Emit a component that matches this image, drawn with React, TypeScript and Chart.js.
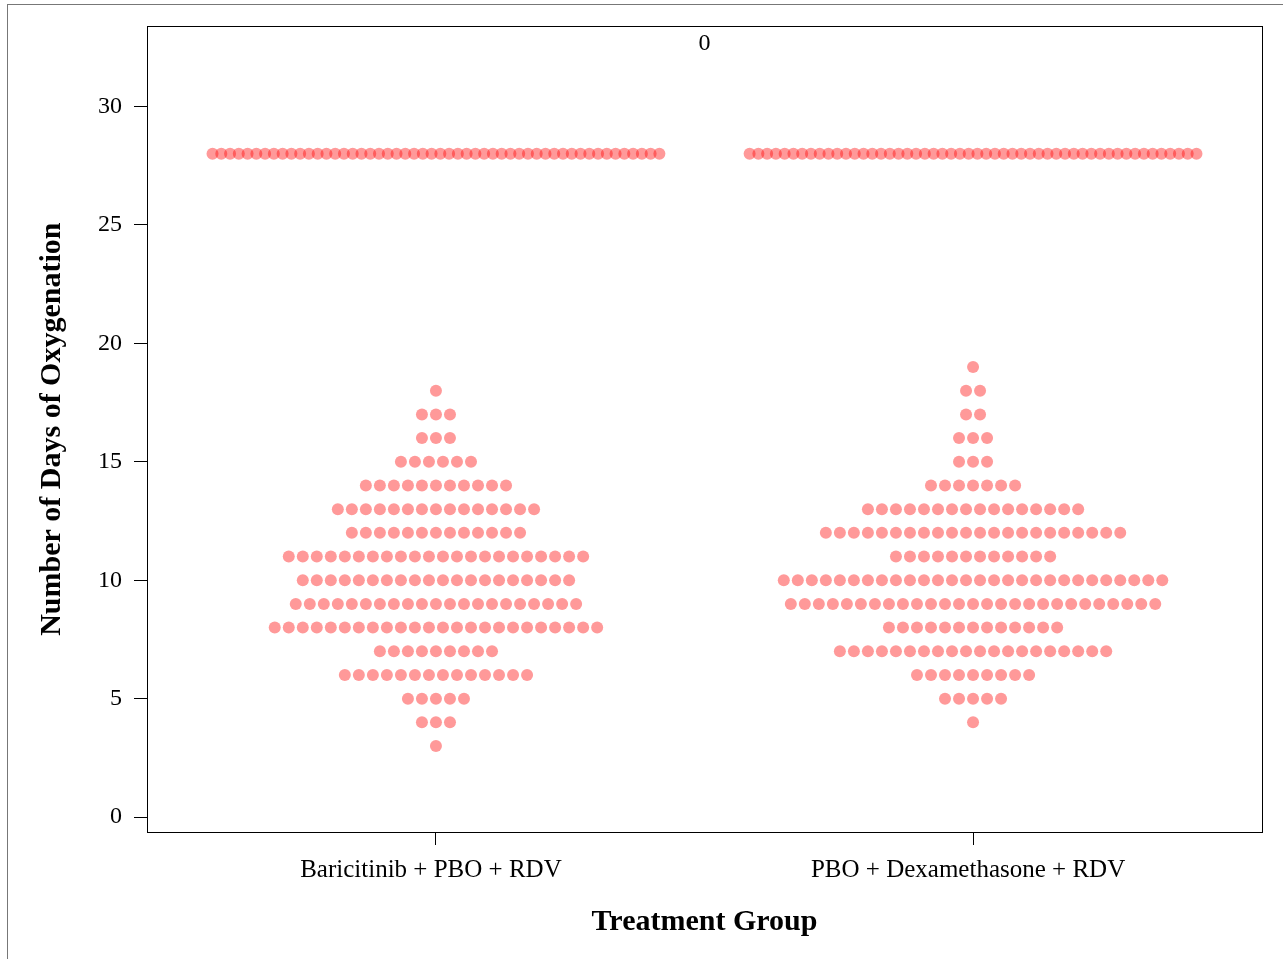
import React, { useEffect, useRef } from "react";
import { Chart, registerables } from "chart.js";

Chart.register(...registerables);

// ---- data ----
const groups = ["Baricitinib + PBO + RDV", "PBO + Dexamethasone + RDV"];
const days = [28, 19, 18, 17, 16, 15, 14, 13, 12, 11, 10, 9, 8, 7, 6, 5, 4, 3];
const countsBari = [52, 0, 1, 3, 3, 6, 11, 15, 13, 22, 20, 21, 24, 9, 14, 5, 3, 1];
const countsDexa = [52, 1, 2, 2, 3, 3, 7, 16, 22, 12, 28, 27, 13, 20, 9, 5, 1, 0];
const yTicks = [0, 5, 10, 15, 20, 25, 30];
const panelLabel = "0";
const xTitle = "Treatment Group";
const yTitle = "Number of Days of Oxygenation";

const FONT = '"Liberation Serif", "Times New Roman", serif';

// dot-plot stacking (symmetric rows around each category)
const DOT_STEP = 0.0261;
const MAX_SPAN = 0.832;
function stackDots(center: number, counts: number[]) {
  const pts: { x: number; y: number }[] = [];
  counts.forEach((n, k) => {
    if (!n) return;
    const step = n > 1 ? Math.min(DOT_STEP, MAX_SPAN / (n - 1)) : 0;
    for (let i = 0; i < n; i++) {
      pts.push({ x: center + (i - (n - 1) / 2) * step, y: days[k] });
    }
  });
  return pts;
}

const framePlugin = {
  id: "frameAndLabel",
  beforeDraw(chart: any) {
    const ctx = chart.ctx;
    ctx.save();
    ctx.fillStyle = "#ffffff";
    ctx.fillRect(0, 0, chart.width, chart.height);
    ctx.fillStyle = "#777777";
    ctx.fillRect(7, 4, chart.width - 7, 1);
    ctx.fillRect(7, 4, 1, chart.height - 4);
    ctx.restore();
  },
  afterDraw(chart: any) {
    const { ctx, chartArea } = chart;
    const { left, right, top, bottom } = chartArea;
    ctx.save();
    ctx.strokeStyle = "#000";
    ctx.lineWidth = 1;
    ctx.strokeRect(Math.round(left) + 0.5, Math.round(top) + 0.5, Math.round(right - left), Math.round(bottom - top));
    ctx.fillStyle = "#000";
    ctx.font = `24px ${FONT}`;
    ctx.textAlign = "center";
    ctx.textBaseline = "alphabetic";
    ctx.fillText(panelLabel, (left + right) / 2, top + 24);
    ctx.restore();
  },
};

export default function App() {
  const ref = useRef<HTMLCanvasElement | null>(null);

  useEffect(() => {
    if (!ref.current) return;
    const dots = [...stackDots(1, countsBari), ...stackDots(2, countsDexa)];
    const chart = new Chart(ref.current, {
      type: "scatter",
      data: {
        datasets: [
          {
            data: dots,
            pointRadius: 6,
            pointHoverRadius: 6,
            backgroundColor: "rgba(255,0,0,0.4)",
            borderWidth: 0,
          },
        ],
      },
      options: {
        animation: false,
        responsive: false,
        maintainAspectRatio: false,
        layout: { padding: { top: 26, right: 21, left: 0, bottom: 0 } },
        plugins: { legend: { display: false }, tooltip: { enabled: false } },
        scales: {
          x: {
            type: "linear",
            min: 0.462,
            max: 2.538,
            afterBuildTicks: (s: any) => {
              s.ticks = groups.map((_, i) => ({ value: i + 1 }));
            },
            afterFit: (s: any) => {
              s.height = 127;
            },
            ticks: {
              callback: (v: any) => groups[Number(v) - 1] ?? "",
              font: { family: FONT, size: 25 },
              color: "#000",
              padding: 10,
              labelOffset: -5,
              maxRotation: 0,
              autoSkip: false,
            },
            grid: { drawOnChartArea: false, drawTicks: true, tickLength: 13, color: "#000", lineWidth: 1 },
            border: { display: true, color: "#000", width: 1 },
            title: {
              display: true,
              text: xTitle,
              color: "#000",
              font: { family: FONT, size: 30, weight: "bold", lineHeight: 1 },
              padding: { top: 0, bottom: 22 },
            },
          },
          y: {
            type: "linear",
            min: -0.63,
            max: 33.38,
            afterBuildTicks: (s: any) => {
              s.ticks = yTicks.map((v) => ({ value: v }));
            },
            afterFit: (s: any) => {
              s.width = 147;
            },
            ticks: {
              font: { family: FONT, size: 24 },
              color: "#000",
              padding: 12,
            },
            grid: { drawOnChartArea: false, drawTicks: true, tickLength: 13, color: "#000", lineWidth: 1 },
            border: { display: true, color: "#000", width: 1 },
            title: {
              display: true,
              text: yTitle,
              color: "#000",
              font: { family: FONT, size: 30, weight: "bold", lineHeight: 1 },
              padding: { top: 37, bottom: 0 },
            },
          },
        },
      },
      plugins: [framePlugin],
    });
    return () => chart.destroy();
  }, []);

  return (
    <div style={{ position: "fixed", left: 0, top: 0, width: 1283, height: 959, background: "#fff" }}>
      <canvas ref={ref} width={1283} height={959} style={{ display: "block", width: 1283, height: 959 }} />
    </div>
  );
}
